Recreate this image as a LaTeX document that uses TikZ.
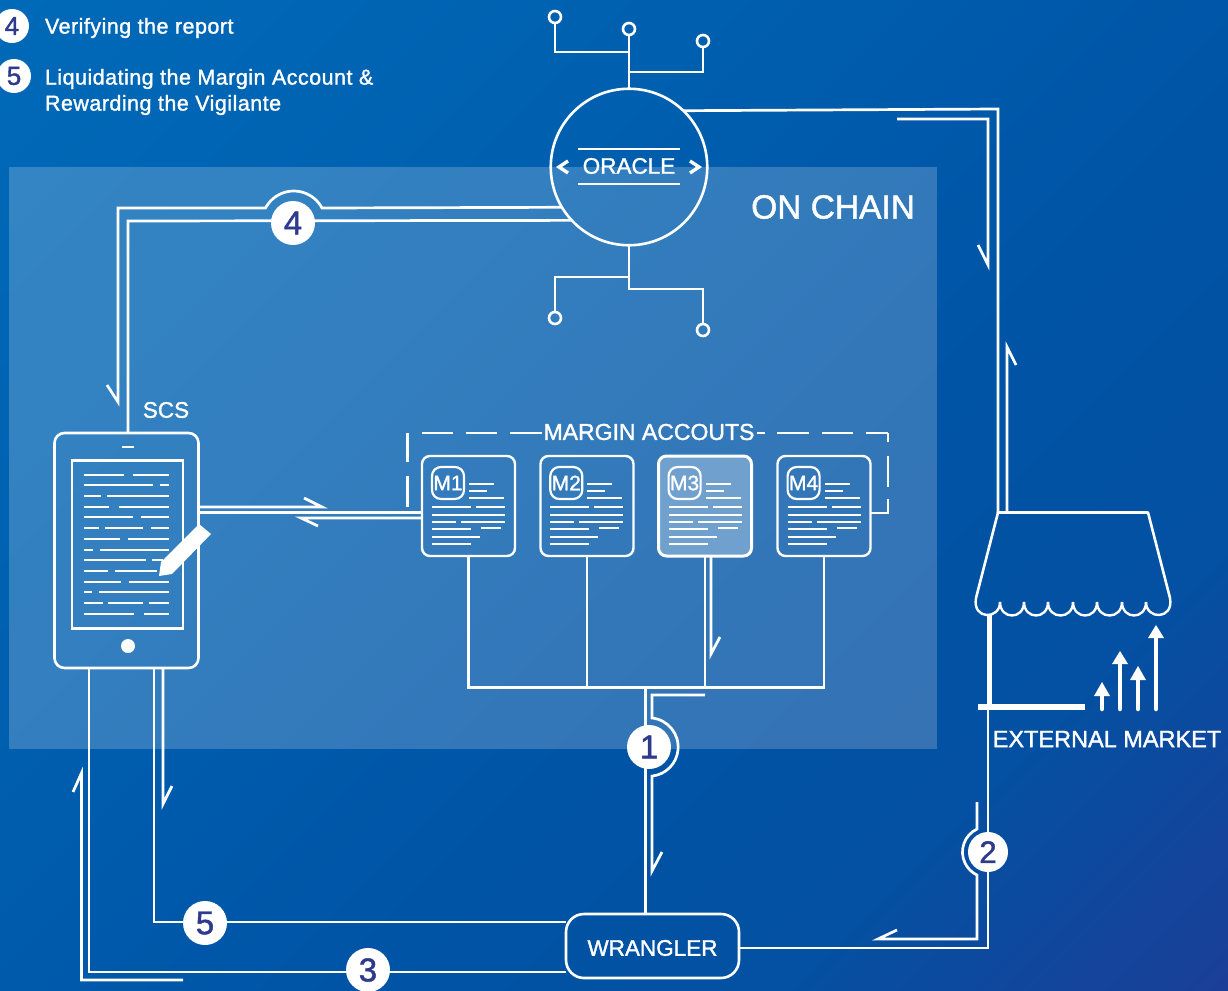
\documentclass[tikz,border=0pt]{standalone}
\usepackage{fontspec}
\setmainfont[RawFeature={embolden=1.4}]{Liberation Sans}
\definecolor{c0}{HTML}{006AB8}
\definecolor{c1}{HTML}{0060B0}
\definecolor{c2}{HTML}{0054A6}
\definecolor{c3}{HTML}{0450A2}
\definecolor{c4}{HTML}{1B3F98}
\definecolor{numc}{HTML}{2E3A8C}
\pgfdeclareverticalshading{bgshade}{100bp}{color(0bp)=(c4); color(14.6bp)=(c4); color(28.8bp)=(c3); color(42.9bp)=(c2); color(64.2bp)=(c1); color(85.4bp)=(c0); color(100bp)=(c0)}
\newfontfamily\legfont[LetterSpace=2.2,RawFeature={embolden=1.4}]{Liberation Sans}
\tikzset{
  wire/.style={draw=white,line width=2.7pt,line join=miter},
  txtline/.style={draw=white,line width=2pt},
  lbl/.style={text=white,inner sep=0pt,outer sep=0pt,anchor=center},
  legtxt/.style={lbl,anchor=west,font=\legfont\fontsize{21.5}{21.5}\selectfont},
  badge/.style={circle,fill=white,inner sep=0pt,outer sep=0pt,minimum size=44pt,text=numc,font=\fontsize{33}{33}\selectfont},
  smallbadge/.style={badge,minimum size=34pt,font=\fontsize{26}{26}\selectfont},
  pin/.style={circle,draw=white,line width=2.6pt,inner sep=0pt,outer sep=0pt,minimum size=12pt},
  mbox/.style={draw=white,line width=2.4pt,rounded corners=8pt,minimum width=93pt,minimum height=100pt,inner sep=0pt,outer sep=0pt},
  mtag/.style={draw=white,line width=2.2pt,rounded corners=9pt,minimum width=32pt,minimum height=32pt,inner sep=0pt,outer sep=0pt,text=white,font=\fontsize{21}{21}\selectfont},
}
\newcommand{\mdoc}[1]{%
  \begin{scope}[shift={(#1,456)}]
    \foreach \xa/\xb/\ya in {47/72/27.7,47/65/35,47/82/42.3,
      10/49/51.3,54/83/51.3,10/83/58.7,10/34/66,39/83/66,10/49/73.3,59/79/72,10/58/80.7,10/49/88}
      {\draw[txtline,line width=1.8pt] (\xa,\ya) -- (\xb,\ya);}
  \end{scope}}
\begin{document}
\begin{tikzpicture}[x=1pt,y=-1pt]
\useasboundingbox (0,0) rectangle (1228,990);
\shade[shading=bgshade,shading angle=45] (0,0) rectangle (1228,990);
\fill[white,opacity=.2] (9,167) rectangle (937,749);

% ---- legend
\node[smallbadge] (leg4) at (12,26) {4};
\node[smallbadge] (leg5) at (14,76) {5};
\node[legtxt] (legt4) at (45,28) {Verifying the report};
\node[legtxt] (legt5a) at (45,79) {Liquidating the Margin Account \&};
\node[legtxt] (legt5b) at (45,105) {Rewarding the Vigilante};

% ---- oracle
\node[circle,draw=white,line width=2.6pt,inner sep=0pt,outer sep=0pt,minimum size=156.5pt] (oracle) at (629,167) {};
\node[lbl,font=\fontsize{22.5}{22.5}\selectfont] (oracletxt) at (629,166) {ORACLE};
\draw[wire] (578,149) -- (680,149);
\draw[wire] (578,184) -- (680,184);
\draw[white,line width=3.4pt] (568,161) -- (559,167) -- (568,173);
\draw[white,line width=3.4pt] (690,161) -- (699,167) -- (690,173);
\node[pin] (p1) at (555,17) {};
\node[pin] (p2) at (629,29) {};
\node[pin] (p3) at (703,41) {};
\node[pin] (p4) at (555,318) {};
\node[pin] (p5) at (703,330) {};
\draw[wire] (oracle.north) -- (p2);
\draw[wire] (p1) -- (555,52) -- (629,52);
\draw[wire] (p3) -- (703,72) -- (629,72);
\draw[wire] (oracle.south) -- (629,289) -- (703,289) -- (p5);
\draw[wire] (629,277) -- (555,277) -- (p4);

\node[lbl,anchor=east,font=\fontsize{33.5}{33.5}\selectfont] (onchain) at (915,207) {ON CHAIN};

% ---- tablet
\node[draw=white,line width=2.6pt,rounded corners=10pt,minimum width=144pt,minimum height=235pt,inner sep=0pt,outer sep=0pt] (tablet) at (126.5,550.5) {};
\node[draw=white,line width=2.4pt,minimum width=111pt,minimum height=168pt,inner sep=0pt,outer sep=0pt] (screen) at (127.5,544.5) {};
\node[circle,fill=white,minimum size=14pt,inner sep=0pt] (btn) at (128,646) {};
\draw[txtline] (122,447) -- (134,447);
\foreach \yy/\segs in {284/{252/373,399/507},316/{252/458,480/507},348/{252/302,322/507},381/{252/327,357/507},412/{252/399,422/507},445/{252/296,316/429,453/507},477/{252/360,385/507},509/{252/279,301/507},541/{252/437,456/490},573/{252/324,344/470},605/{252/364,386/507},637/{252/275,297/507},669/{252/308,325/429,447/507},701/{252/402,432/507}}{
  \foreach \sa/\sb in \segs {\draw[txtline] ({\sa/3},{380+\yy/3}) -- ({\sb/3},{380+\yy/3});}
}
\fill[white] (199,524) -- (211,534) -- (172,574) -- (159,576) -- (161,562) -- cycle;
\node[lbl,font=\fontsize{22.5}{22.5}\selectfont] (scs) at (166,410) {SCS};

% ---- margin accounts
\node[lbl,font=\fontsize{23}{23}\selectfont] (mtitle) at (649,432) {MARGIN ACCOUTS};
\foreach \xa/\xb in {422/453,466/497,510/542,757/765,777/809,822/853,866/888}{\draw[wire] (\xa,433) -- (\xb,433);}
\foreach \ya/\yb in {433/462,476/507}{\draw[wire] (407.5,\ya) -- (407.5,\yb);}
\draw[wire] (414,512.5) -- (420,512.5);
\foreach \ya/\yb in {433/442,456/487}{\draw[wire] (888,\ya) -- (888,\yb);}

\node[mbox,fill=white,fill opacity=.3,line width=3pt] (m3) at (705,506) {};
\node[mbox] (m1) at (468.5,506) {};
\node[mbox] (m2) at (587,506) {};
\node[mbox] (m4) at (824,506) {};
\draw[wire] (888,499) -- (888,513) -- (m4.east |- 0,513);
\node[mtag] (t1) at (448,483) {M1};
\node[mtag] (t2) at (566.3,483) {M2};
\node[mtag] (t3) at (684.6,483) {M3};
\node[mtag] (t4) at (803.6,483) {M4};
\mdoc{422}\mdoc{540.3}\mdoc{658.6}\mdoc{777.6}

% ---- wrangler
\node[draw=white,line width=2.6pt,rounded corners=18pt,minimum width=173pt,minimum height=64pt,inner sep=0pt,outer sep=0pt] (wrangler) at (652.5,946) {};
\node[lbl,font=\fontsize{22.5}{22.5}\selectfont] (wtxt) at (652.5,948) {WRANGLER};

% bus
\coordinate (bus) at (645.5,687.5);
\draw[wire] (m1.south) -- (m1.south |- bus) -- (m4.south |- bus) -- (m4.south);
\draw[wire] (m2.south) -- (m2.south |- bus);
\draw[wire] (m3.south) -- (m3.south |- bus);

% connector 1
\draw[wire] (bus) -- (bus |- wrangler.north);
\draw[wire] (705,695) -- (652,695) -- (652,718) arc[start angle=84,end angle=-84,radius=29.2pt] -- (652,871) -- (662,852);
\draw[wire] (711,556) -- (711,654) -- (720,637);

% connector 2
\draw[wire] (wrangler.east |- 0,948) -- (988,948) -- (988,707);
\draw[wire] (977,802) -- (977,829) arc[start angle=115.5,end angle=244.5,radius=25.5pt] -- (977,939) -- (878,939) -- (897,930);

% connector 3 and 5
\draw[wire] (wrangler.west |- 0,972) -- (89,972) -- (89,668);
\draw[wire] (wrangler.west |- 0,922) -- (154,922) -- (154,668);
\draw[wire] (183,980) -- (81.5,980) -- (81.5,773) -- (73,792);
\draw[wire] (163,668) -- (163,804) -- (172,786);

% connector 4
\draw[wire] (oracle.211.5) -- (322,208) arc[start angle=28,end angle=152,radius=32pt] -- (118,208) -- (118,402) -- (107,385);
\draw[wire] (oracle.223.5) -- (128,221) -- (128,432.5);

% oracle -- market
\draw[wire] (oracle.46) -- (998,109) -- (998,513);
\draw[wire] (897,119) -- (988,119) -- (988,265) -- (978,245);
\draw[wire] (1007,513) -- (1007,347) -- (1016,365);

% tablet -- margin
\draw[wire] (tablet.east |- 0,507) -- (322,507) -- (304,498);
\draw[wire] (tablet.east |- 0,512.5) -- (m1.west |- 0,512.5);
\draw[wire] (m1.west |- 0,518) -- (301,518) -- (318,526);

% market
\draw[white,line width=2.6pt,line join=round] (976,598) -- (998,512.5) -- (1148,512.5) -- (1170,598);
\foreach \xa/\xb in {1000/1024,1024/1048,1048/1073,1073/1097,1097/1122,1122/1146}{
  \draw[white,line width=2.4pt] (\xa,602) .. controls (\xa,620) and (\xb,620) .. (\xb,602);
}
\draw[white,line width=2.4pt] (1000,602) .. controls (1000,620) and (972,620) .. (976,598);
\draw[white,line width=2.4pt] (1146,602) .. controls (1146,620) and (1174,620) .. (1170,598);
\draw[white,line width=5pt] (989,614) -- (989,707);
\draw[white,line width=6pt] (978,707) -- (1085,707);
\foreach \ax/\ay/\ab in {1102/682/696,1120/651/664,1138/666/680,1156/625/638}{
  \draw[white,line width=4.5pt,line cap=round] (\ax,\ab) -- (\ax,709);
  \fill[white] (\ax,\ay) -- (\ax+8,\ab) -- (\ax-8,\ab) -- cycle;
}
\node[lbl,font=\fontsize{23.5}{23.5}\selectfont] (extm) at (1107,739) {EXTERNAL MARKET};

% badges on top
\node[badge] (b4) at (293,223) {4};
\node[badge] (b5) at (205,923) {5};
\node[badge] (b3) at (368,970) {3};
\node[badge] (b1) at (649,747) {1};
\node[badge,minimum size=40pt,font=\fontsize{31}{31}\selectfont] (b2) at (988,852) {2};
\end{tikzpicture}
\end{document}
